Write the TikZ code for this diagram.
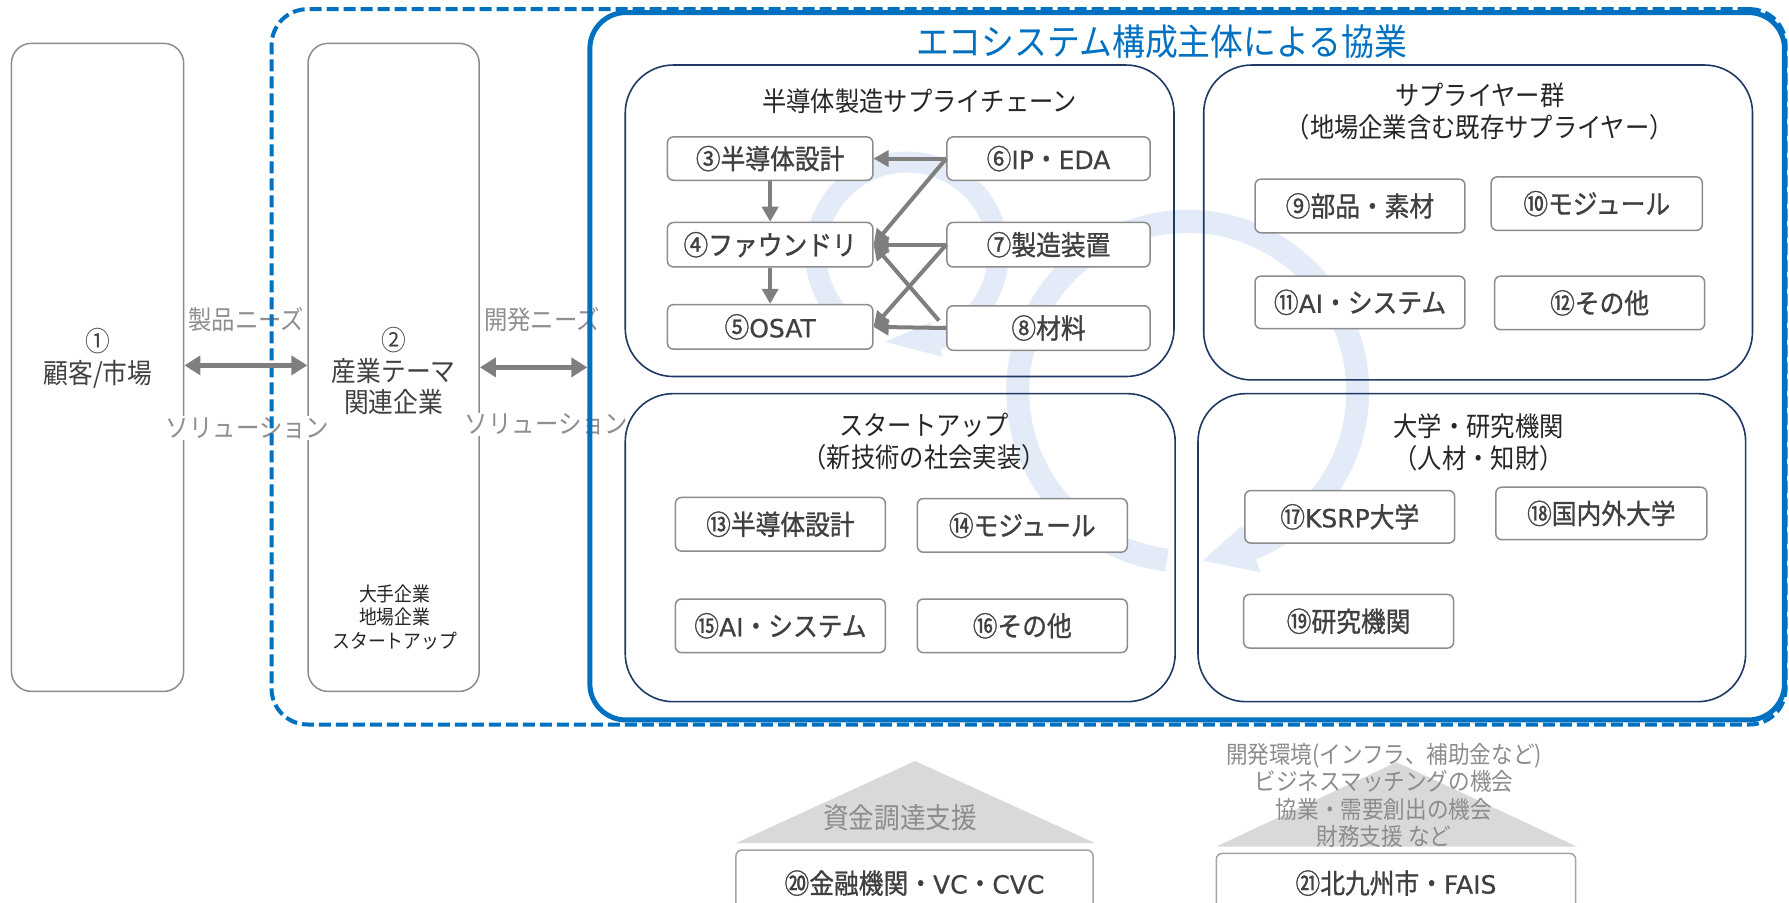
\documentclass[tikz,border=0pt]{standalone}
\usepackage{fontspec}
\setmainfont[FakeStretch=0.9]{Noto Sans CJK JP}
\newfontfamily\medfont[FakeStretch=0.9,FakeBold=1]{Noto Sans CJK JP}
\newfontfamily\latf[FakeBold=0.6]{DejaVu Sans}
\usetikzlibrary{arrows.meta,calc}
\definecolor{bluec}{HTML}{0070C0}
\definecolor{navy}{HTML}{203864}
\definecolor{boxgray}{HTML}{8C8C8C}
\definecolor{txtdark}{HTML}{404040}
\definecolor{txtblack}{HTML}{262626}
\definecolor{lblgray}{HTML}{8F8F8F}
\definecolor{arrgray}{HTML}{7F7F7F}
\definecolor{ringc}{HTML}{E3EBF8}
\definecolor{trigray}{HTML}{D9D9D9}
\definecolor{tritxt}{HTML}{8C8C8C}
\newcommand\fsz[2]{\fontsize{#1}{#2}\selectfont}
\newcommand\lt[1]{{\latf\fontsize{25}{30}\selectfont #1}}
\newcommand\mkbox[7]{\node[#2, minimum width={(#5-#3)*1.141pt}, minimum height={(#6-#4)*1.141pt}] (#1) at ({(#3+#5)/2},{(#4+#6)/2}) {#7};}
\begin{document}
\begin{tikzpicture}[x=1.141pt, y=-1.141pt,
  outer/.style={draw=boxgray, line width=1.5pt, rounded corners=20pt, inner sep=0pt},
  inbox/.style={draw=boxgray, line width=1.5pt, rounded corners=6pt, fill=white, inner sep=0pt, text=txtdark, font=\medfont\fsz{27.5}{30}},
  panel/.style={draw=navy, line width=1.6pt, rounded corners=48pt, inner sep=0pt},
  dashbox/.style={draw=bluec, line width=4pt, dash pattern=on 12pt off 5pt, rounded corners=36pt, inner sep=0pt},
  ecobox/.style={draw=bluec, line width=5pt, rounded corners=36pt, inner sep=0pt},
  lbl/.style={text=lblgray, font=\fsz{26}{28}, fill=white, inner sep=1pt},
  ptitle/.style={text=txtblack, font=\fsz{27}{32}, align=center},
  arr/.style={draw=arrgray, line width=4pt, -{Triangle[length=15pt,width=16pt]}},
  dbl/.style={draw=arrgray, line width=5pt, {Triangle[length=16pt,width=19pt]}-{Triangle[length=16pt,width=19pt]}},
  ring/.style={draw=ringc, line width=21pt},
  tri/.style={fill=trigray},
  botbox/.style={draw=boxgray!80, line width=1.5pt, rounded corners=6pt, fill=white, inner sep=0pt, text=txtdark, font=\medfont\fsz{27.5}{30}},
  tritext/.style={text=tritxt, align=center}]
\useasboundingbox (0,0) rectangle (1568,791);
\clip (0,0) rectangle (1568,791);
% background rings
\draw[ring] plot[domain=120:431, samples=120] ({795+80*cos(\x)},{222+80*sin(\x)});
\fill[ringc] ({795+96*cos(71)},{222+96*sin(71)}) -- ({795+64*cos(71)},{222+64*sin(71)}) -- ({795+80*cos(104)},{222+80*sin(104)}) -- cycle;
\draw[ring, line width=23pt] plot[domain=97:428, samples=200] ({1041+149*cos(\x)},{343+149*sin(\x)});
\fill[ringc] ({1041+171*cos(68)},{343+171*sin(68)}) -- ({1041+127*cos(68)},{343+127*sin(68)}) -- ({1041+149*cos(85)},{343+149*sin(85)}) -- cycle;
% left boxes
\mkbox{n1}{outer}{10}{38}{161}{606}{}
\mkbox{n2}{outer}{270}{38}{420}{606}{}
\node[font=\fsz{27.5}{32}, text=txtdark, align=center] (t1) at (86,314) {①\\顧客/市場};
\node[font=\fsz{27.5}{31}, text=txtdark, align=center] (t2) at (345,325) {②\\産業テーマ\\関連企業};
\node[font=\fsz{19.8}{23.4}, text=txtblack, align=center] (t2s) at (346,541) {大手企業\\地場企業\\スタートアップ};
% labels
\node[lbl] (l1) at (216,280) {製品ニーズ};
\node[lbl] (l2) at (217,375) {ソリューション};
\node[lbl] (l3) at (475,280) {開発ニーズ};
\node[lbl] (l4) at (479,372) {ソリューション};
% blue frames
\mkbox{dash}{dashbox}{238}{8}{1565}{635}{}
\mkbox{eco}{ecobox}{517}{11}{1564}{631}{}
\draw[dbl] ([yshift=2pt]n1.east) -- ([yshift=2pt]n2.west);
\draw[dbl] (n2.east) -- (n2.east -| eco.west);
\node[text=bluec, font=\fsz{36.5}{40}] (title) at (1018,37) {エコシステム構成主体による協業};
% panels
\mkbox{pA}{panel}{548}{57}{1029}{330}{}
\mkbox{pB}{panel}{1055}{57}{1536}{333}{}
\mkbox{pC}{panel}{548}{345}{1030}{615}{}
\mkbox{pD}{panel}{1050}{345}{1530}{615}{}
\node[ptitle] (pat) at (806,89) {半導体製造サプライチェーン};
\node[ptitle] (pbt) at (1297,98) {サプライヤー群\\（地場企業含む既存サプライヤー）};
\node[ptitle] (pct) at (810,387) {スタートアップ\\（新技術の社会実装）};
\node[ptitle] (pdt) at (1296,388) {大学・研究機関\\（人材・知財）};
% inner boxes
\mkbox{b3}{inbox}{585}{120}{765}{158}{③半導体設計}
\mkbox{b4}{inbox}{585}{195}{765}{234}{④ファウンドリ}
\mkbox{b5}{inbox}{585}{267}{765}{306}{⑤\lt{OSAT}}
\mkbox{b6}{inbox}{830}{120}{1008}{158}{⑥\lt{IP}・\lt{EDA}}
\mkbox{b7}{inbox}{830}{195}{1008}{234}{⑦製造装置}
\mkbox{b8}{inbox}{830}{268}{1008}{307}{⑧材料}
\mkbox{b9}{inbox}{1100}{157}{1284}{204}{⑨部品・素材}
\mkbox{b10}{inbox}{1307}{155}{1492}{202}{⑩モジュール}
\mkbox{b11}{inbox}{1100}{242}{1284}{288}{⑪\lt{AI}・システム}
\mkbox{b12}{inbox}{1310}{242}{1494}{289}{⑫その他}
\mkbox{b13}{inbox}{592}{436}{776}{483}{⑬半導体設計}
\mkbox{b14}{inbox}{804}{437}{988}{484}{⑭モジュール}
\mkbox{b15}{inbox}{592}{525}{776}{572}{⑮\lt{AI}・システム}
\mkbox{b16}{inbox}{804}{525}{988}{572}{⑯その他}
\mkbox{b17}{inbox}{1091}{430}{1275}{476}{⑰\lt{KSRP}大学}
\mkbox{b18}{inbox}{1311}{427}{1496}{473}{⑱国内外大学}
\mkbox{b19}{inbox}{1090}{521}{1274}{568}{⑲研究機関}
% supply chain arrows
\draw[arr] (b3.south) -- (b4.north);
\draw[arr] (b4.south) -- (b5.north);
\draw[arr] (b6.west) -- (b3.east);
\draw[arr] (b6.west) -- (b4.east);
\draw[arr] (b7.west) -- (b4.east);
\draw[arr] (b7.west) -- (b5.east);
\coordinate (c8) at (823,281);
\draw[arr] (c8) -- (b4.east);
\draw[arr] (b8.west) -- (b5.east);
% bottom support
\fill[tri] (802,667) -- (960,739) -- (645,739) -- cycle;
\node[tritext, font=\fsz{28.5}{30}] (s20) at (789,717) {資金調達支援};
\mkbox{b20}{botbox}{645}{745}{958}{803}{⑳金融機関・\lt{VC}・\lt{CVC}}
\fill[tri] (1224,668) -- (1382,742) -- (1066,742) -- cycle;
\node[tritext, font=\fsz{24}{27.4}] (s21) at (1213,697) {開発環境(インフラ、補助金など)\\ビジネスマッチングの機会\\協業・需要創出の機会\\財務支援 など};
\mkbox{b21}{botbox}{1066}{748}{1381}{800}{㉑北九州市・\lt{FAIS}}
\end{tikzpicture}
\end{document}
